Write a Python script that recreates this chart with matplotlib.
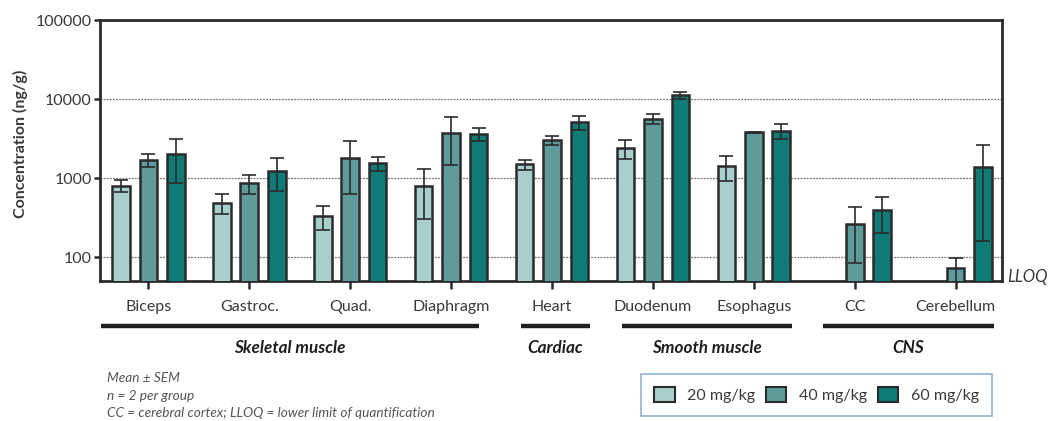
import numpy as np
import matplotlib
matplotlib.use('Agg')
import matplotlib.pyplot as plt
from matplotlib.patches import Patch
import matplotlib.transforms as mtransforms

plt.rcParams['font.family'] = ['Lato', 'DejaVu Sans']

# tissues and dose groups
tissues = ['Biceps', 'Gastroc.', 'Quad.', 'Diaphragm', 'Heart',
           'Duodenum', 'Esophagus', 'CC', 'Cerebellum']
doses = ['20 mg/kg', '40 mg/kg', '60 mg/kg']

# mean concentration (ng/g), nan = below LLOQ
mean_20 = [800, 490, 330, 800, 1500, 2380, 1420, np.nan, np.nan]
mean_40 = [1690, 860, 1780, 3680, 3030, 5580, 3790, 260, 72]
mean_60 = [2000, 1230, 1540, 3600, 5070, 11240, 3970, 395, 1390]

# SEM
sem_20 = [140, 140, 110, 500, 220, 650, 500, 0, 0]
sem_40 = [320, 235, 1150, 2200, 400, 800, 60, 175, 26]
sem_60 = [1120, 550, 300, 650, 1000, 1100, 800, 190, 1230]

# tissue groups: (label, first index, last index)
groups = [('Skeletal muscle', 0, 3), ('Cardiac', 4, 4),
          ('Smooth muscle', 5, 6), ('CNS', 7, 8)]

colors = ['#a9cfcd', '#5f9b9a', '#107a76']
edge = '#2b2b2b'
txt = '#3a3a3a'

fig = plt.figure(figsize=(10.5, 4.21), dpi=100)
ax = fig.add_axes([100/1050, 1-281/421, 902/1050, 261/421])
ax.set_yscale('log')

x = np.arange(len(tissues))
width = 0.175
step = 0.272
means = [mean_20, mean_40, mean_60]
sems = [sem_20, sem_40, sem_60]

for i in range(3):
    m = np.array(means[i], dtype=float)
    s = np.array(sems[i], dtype=float)
    ok = ~np.isnan(m)
    xi = x[ok] + (i - 1) * step
    ax.bar(xi, m[ok], width=width, color=colors[i], edgecolor=edge,
           linewidth=1.8, zorder=3)
    ax.errorbar(xi, m[ok], yerr=s[ok], fmt='none', ecolor=edge,
                elinewidth=1.2, capsize=5, capthick=1.2, zorder=4)

ax.set_ylim(50, 100000)
ax.set_xlim(-0.48, 8.46)
ax.set_yticks([100, 1000, 10000, 100000])
ax.set_yticklabels(['100', '1000', '10000', '100000'])
ax.minorticks_off()
ax.yaxis.grid(True, which='major', linestyle=(0, (1.5, 1)), color='#777777',
              linewidth=0.9, zorder=0)
ax.set_axisbelow(True)

ax.set_xticks(x)
ax.set_xticklabels(tissues)
ax.tick_params(axis='x', length=6, width=1.8, pad=8, labelsize=11.5,
               labelcolor=txt, color=edge)
ax.tick_params(axis='y', length=4, width=1.8, pad=2, labelsize=11.5,
               labelcolor=txt, color=edge)
for sp in ax.spines.values():
    sp.set_linewidth(2)
    sp.set_color(edge)

# group bars and labels under the tick labels
trans = mtransforms.blended_transform_factory(ax.transData, ax.transAxes)
for label, a, b in groups:
    x0 = a - 0.47 if a == 0 else a - 0.31
    x1 = b + 0.28 if b == 3 else b + 0.38
    ax.plot([x0, x1], [-0.172, -0.172], transform=trans, color='#1e1e1e',
            linewidth=3.2, clip_on=False, solid_capstyle='butt')
    ax.text((x0 + x1) / 2, -0.257, label, transform=trans, ha='center',
            va='center', fontsize=12.3, fontweight='bold', fontstyle='italic',
            color='#1e1e1e')

fig.text(20/1050, 1-144/421, 'Concentration (ng/g)', rotation=90,
         ha='center', va='center', fontsize=11.5, fontweight='bold', color=txt)
fig.text(1007/1050, 1-277/421, 'LLOQ', ha='left', va='center', fontsize=12,
         fontstyle='italic', color=txt)

notes = ['Mean \u00b1 SEM', 'n = 2 per group',
         'CC = cerebral cortex; LLOQ = lower limit of quantification']
for k, note in enumerate(notes):
    fig.text(107/1050, 1-(378 + 17.5*k)/421, note, ha='left', va='center',
             fontsize=9.8, fontstyle='italic', color='#555555')

handles = [Patch(facecolor=c, edgecolor=edge, linewidth=1.5) for c in colors]
leg = fig.legend(handles, doses, loc='center', ncol=3, mode='expand',
                 bbox_to_anchor=(633/1050, 1-415/421, 367/1050, 40/421),
                 frameon=True, fancybox=False, fontsize=11.5,
                 handlelength=1.3, handleheight=1.1, handletextpad=0.8,
                 borderpad=0.8, columnspacing=1.2)
leg.get_frame().set_edgecolor('#7fa6cc')
leg.get_frame().set_linewidth(1.3)
for t in leg.get_texts():
    t.set_color(txt)

fig.savefig('out.png', dpi=100)
